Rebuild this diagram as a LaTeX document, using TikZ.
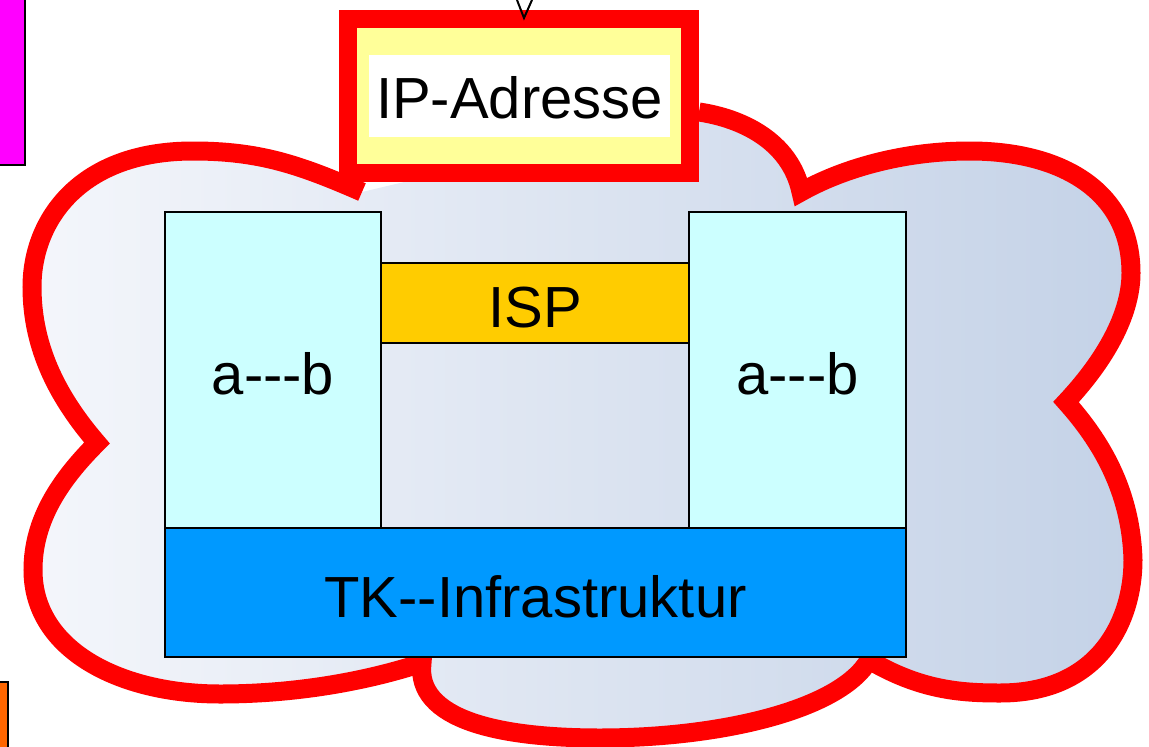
\documentclass[tikz,border=0pt]{standalone}
\usepackage{fontspec}
\setmainfont{Liberation Sans}[Ligatures=TeXOff]
\definecolor{cloudred}{HTML}{FF0000}
\definecolor{cloudL}{HTML}{F4F6FB}
\definecolor{cloudR}{HTML}{C4D2E7}
\definecolor{abcol}{HTML}{CCFFFF}
\definecolor{ispcol}{HTML}{FFCC00}
\definecolor{tkcol}{HTML}{0099FF}
\definecolor{ipyellow}{HTML}{FFFF99}
\definecolor{magcol}{HTML}{FF00FF}
\definecolor{orcol}{HTML}{FF6600}
\newcommand{\cloudline}{(362,192) .. controls (300,165) and (260,151) .. (193,151)
 .. controls (80,151) and (32,220) .. (32,287)
 .. controls (32,350) and (60,400) .. (97,443)
 .. controls (60,480) and (33,520) .. (33,570)
 .. controls (33,650) and (120,694) .. (220,694)
 .. controls (300,694) and (370,680) .. (422,663)
 .. controls (415,720) and (500,738) .. (600,738)
 .. controls (720,738) and (840,710) .. (869,660)
 .. controls (920,690) and (960,693) .. (1000,693)
 .. controls (1100,693) and (1133,620) .. (1133,560)
 .. controls (1131,490) and (1100,440) .. (1066,402)
 .. controls (1110,355) and (1131,310) .. (1131,273)
 .. controls (1131,190) and (1060,151) .. (970,151)
 .. controls (900,151) and (840,170) .. (801,192)
 .. controls (790,140) and (740,118) .. (699,112)}
\begin{document}
\begin{tikzpicture}[x=1pt,y=-1pt,
  box/.style={draw=black, line width=2pt, inner sep=0pt, outer sep=0pt},
  lbl/.style={font=\fontsize{58}{68}\selectfont, text=black, text height=49pt, text depth=0pt},
  ]
\useasboundingbox (0,0) rectangle (1149,747);
% cloud
\shade[left color=cloudL, right color=cloudR] \cloudline -- cycle;
\draw[cloudred, line width=19pt, line join=miter] \cloudline;
% side rectangles
\node[box, fill=magcol, minimum width=27pt, minimum height=167pt] (mag) at (11.5,81.5) {};
\node[box, fill=orcol, minimum width=10pt, minimum height=67pt] (ora) at (3,715.5) {};
% boxes
\node[box, fill=abcol, minimum width=216pt, minimum height=316pt, lbl] (abl) at (273,370) {a---b};
\node[box, fill=abcol, minimum width=217pt, minimum height=316pt, lbl] (abr) at (797.5,370) {a---b};
\node[box, fill=ispcol, minimum width=308pt, minimum height=80pt, lbl] (isp) at (535,303) {ISP};
\node[box, fill=tkcol, minimum width=741pt, minimum height=129pt, lbl] (tk) at (535.5,592.5) {TK--Infrastruktur};
% IP-Adresse
\node[draw=cloudred, line width=18pt, fill=ipyellow, inner sep=0pt, minimum width=342pt, minimum height=154pt] (ipo) at (519,96) {};
\node[fill=white, inner sep=0pt, minimum width=301pt, minimum height=82pt, lbl, text height=44pt] (ip) at (519.5,96) {IP-Adresse};
% arrow head
\coordinate (vl) at (517,0);
\coordinate (vt) at (524,18);
\coordinate (vr) at (532,0);
\draw[black, line width=2pt] (vl) -- (vt) -- (vr);
\end{tikzpicture}
\end{document}
